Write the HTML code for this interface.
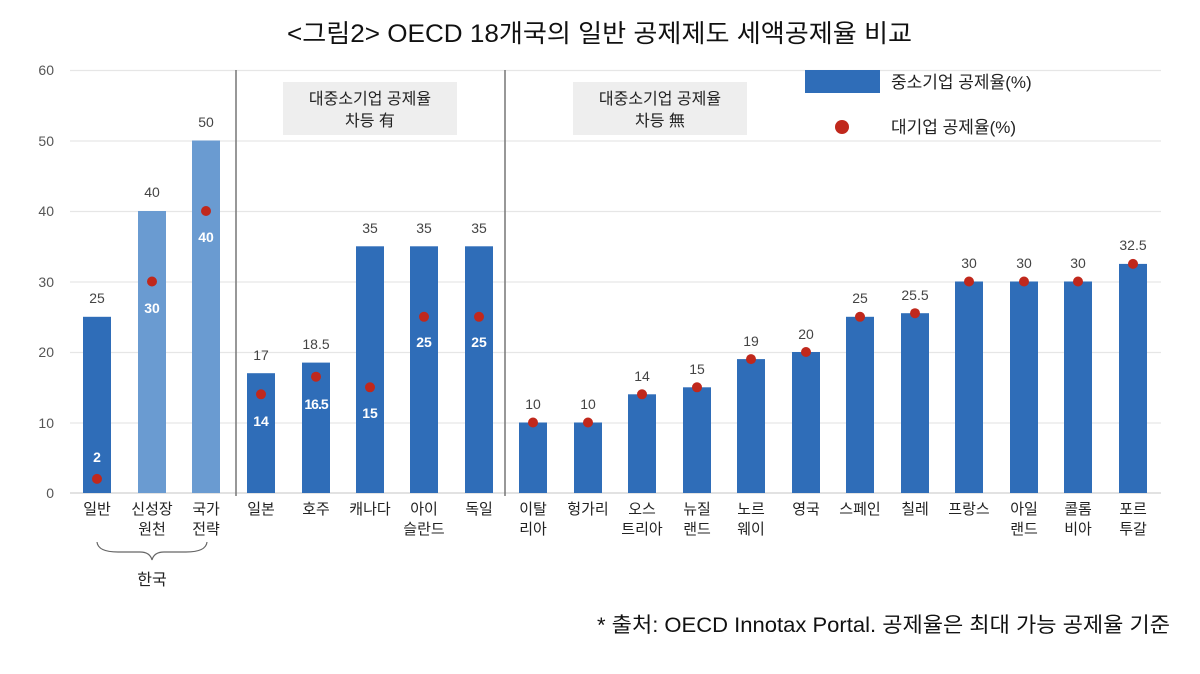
<!DOCTYPE html>
<html><head><meta charset="utf-8"><style>
body{margin:0;background:#fff;}
svg{display:block;font-family:"Liberation Sans","Noto Sans CJK KR",sans-serif;}
</style></head><body>
<svg width="1200" height="674" viewBox="0 0 1200 674" xmlns="http://www.w3.org/2000/svg">
<text x="287" y="42" font-size="25" fill="#111" textLength="625" lengthAdjust="spacingAndGlyphs">&lt;그림2&gt; OECD 18개국의 일반 공제제도 세액공제율 비교</text>
<g stroke="#e6e6e6" stroke-width="1.3">
<line x1="70" x2="1161" y1="70.5" y2="70.5"/><line x1="70" x2="1161" y1="141" y2="141"/><line x1="70" x2="1161" y1="211.5" y2="211.5"/><line x1="70" x2="1161" y1="282" y2="282"/><line x1="70" x2="1161" y1="352.5" y2="352.5"/><line x1="70" x2="1161" y1="423" y2="423"/>
</g>
<line x1="70" x2="1161" y1="493" y2="493" stroke="#d0d0d0" stroke-width="1.3"/>
<g font-size="14" fill="#555" text-anchor="end">
<text x="54" y="75">60</text><text x="54" y="146">50</text><text x="54" y="216">40</text><text x="54" y="287">30</text><text x="54" y="357">20</text><text x="54" y="428">10</text><text x="54" y="498">0</text>
</g>
<line x1="236" x2="236" y1="70" y2="496" stroke="#777" stroke-width="1.5"/>
<line x1="505" x2="505" y1="70" y2="496" stroke="#777" stroke-width="1.5"/>
<rect x="283" y="82" width="174" height="53" fill="#eeeeee"/>
<rect x="573" y="82" width="174" height="53" fill="#eeeeee"/>
<g font-size="16" fill="#222" text-anchor="middle">
<text x="370" y="104">대중소기업 공제율</text><text x="370" y="126">차등 有</text>
<text x="660" y="104">대중소기업 공제율</text><text x="660" y="126">차등 無</text>
</g>
<rect x="805" y="70" width="75" height="23" fill="#2f6db8"/>
<text x="891" y="88" font-size="17" fill="#222">중소기업 공제율(%)</text>
<circle cx="842" cy="127" r="7" fill="#c0281c"/>
<text x="891" y="133" font-size="17" fill="#222">대기업 공제율(%)</text>
<g font-size="14" fill="#222" text-anchor="middle">
<rect x="83" y="316.8" width="28" height="176.2" fill="#2f6db8"/>
<rect x="138" y="211" width="28" height="282" fill="#6a9bd1"/>
<rect x="192" y="140.5" width="28" height="352.5" fill="#6a9bd1"/>
<rect x="247" y="373.2" width="28" height="119.8" fill="#2f6db8"/>
<rect x="302" y="362.6" width="28" height="130.4" fill="#2f6db8"/>
<rect x="356" y="246.3" width="28" height="246.7" fill="#2f6db8"/>
<rect x="410" y="246.3" width="28" height="246.7" fill="#2f6db8"/>
<rect x="465" y="246.3" width="28" height="246.7" fill="#2f6db8"/>
<rect x="519" y="422.5" width="28" height="70.5" fill="#2f6db8"/>
<rect x="574" y="422.5" width="28" height="70.5" fill="#2f6db8"/>
<rect x="628" y="394.3" width="28" height="98.7" fill="#2f6db8"/>
<rect x="683" y="387.3" width="28" height="105.7" fill="#2f6db8"/>
<rect x="737" y="359.1" width="28" height="133.9" fill="#2f6db8"/>
<rect x="792" y="352" width="28" height="141" fill="#2f6db8"/>
<rect x="846" y="316.8" width="28" height="176.2" fill="#2f6db8"/>
<rect x="901" y="313.2" width="28" height="179.8" fill="#2f6db8"/>
<rect x="955" y="281.5" width="28" height="211.5" fill="#2f6db8"/>
<rect x="1010" y="281.5" width="28" height="211.5" fill="#2f6db8"/>
<rect x="1064" y="281.5" width="28" height="211.5" fill="#2f6db8"/>
<rect x="1119" y="263.9" width="28" height="229.1" fill="#2f6db8"/>
<g fill="#444">
<text x="97" y="303">25</text><text x="152" y="197">40</text><text x="206" y="127">50</text>
<text x="261" y="360">17</text><text x="316" y="349">18.5</text><text x="370" y="233">35</text><text x="424" y="233">35</text><text x="479" y="233">35</text>
<text x="533" y="409">10</text><text x="588" y="409">10</text><text x="642" y="381">14</text><text x="697" y="374">15</text><text x="751" y="346">19</text><text x="806" y="339">20</text><text x="860" y="303">25</text><text x="915" y="300">25.5</text><text x="969" y="268">30</text><text x="1024" y="268">30</text><text x="1078" y="268">30</text><text x="1133" y="250">32.5</text>
</g>
<g fill="#c0281c">
<circle cx="97" cy="478.9" r="5"/><circle cx="152" cy="281.5" r="5"/><circle cx="206" cy="211" r="5"/>
<circle cx="261" cy="394.3" r="5"/><circle cx="316" cy="376.7" r="5"/><circle cx="370" cy="387.3" r="5"/><circle cx="424" cy="316.8" r="5"/><circle cx="479" cy="316.8" r="5"/>
<circle cx="533" cy="422.5" r="5"/><circle cx="588" cy="422.5" r="5"/><circle cx="642" cy="394.3" r="5"/><circle cx="697" cy="387.3" r="5"/><circle cx="751" cy="359.1" r="5"/><circle cx="806" cy="352" r="5"/><circle cx="860" cy="316.8" r="5"/><circle cx="915" cy="313.2" r="5"/><circle cx="969" cy="281.5" r="5"/><circle cx="1024" cy="281.5" r="5"/><circle cx="1078" cy="281.5" r="5"/><circle cx="1133" cy="263.9" r="5"/>
</g>
<g fill="#fff" font-weight="bold">
<text x="97" y="462">2</text><text x="152" y="313">30</text><text x="206" y="242">40</text>
<text x="261" y="426">14</text><text x="316" y="409" letter-spacing="-1">16.5</text><text x="370" y="418">15</text><text x="424" y="347">25</text><text x="479" y="347">25</text>
</g>
<g font-size="15" fill="#222">
<text x="97" y="514">일반</text><text x="152" y="514">신성장</text><text x="152" y="534">원천</text><text x="206" y="514">국가</text><text x="206" y="534">전략</text>
<text x="261" y="514">일본</text><text x="316" y="514">호주</text><text x="370" y="514">캐나다</text><text x="424" y="514">아이</text><text x="424" y="534">슬란드</text><text x="479" y="514">독일</text>
<text x="533" y="514">이탈</text><text x="533" y="534">리아</text><text x="588" y="514">헝가리</text><text x="642" y="514">오스</text><text x="642" y="534">트리아</text><text x="697" y="514">뉴질</text><text x="697" y="534">랜드</text><text x="751" y="514">노르</text><text x="751" y="534">웨이</text><text x="806" y="514">영국</text><text x="860" y="514">스페인</text><text x="915" y="514">칠레</text><text x="969" y="514">프랑스</text><text x="1024" y="514">아일</text><text x="1024" y="534">랜드</text><text x="1078" y="514">콜롬</text><text x="1078" y="534">비아</text><text x="1133" y="514">포르</text><text x="1133" y="534">투갈</text>
<text x="152" y="585" font-size="16">한국</text>
</g>
</g>
<path d="M97 542 Q98 552 118 552 L140 552 Q150 552 152 560 Q154 552 164 552 L186 552 Q206 552 207 542" fill="none" stroke="#666" stroke-width="1.2"/>
<text x="597" y="632" font-size="21" fill="#111" textLength="573" lengthAdjust="spacingAndGlyphs">* 출처: OECD Innotax Portal. 공제율은 최대 가능 공제율 기준</text>
</svg>
</body></html>
